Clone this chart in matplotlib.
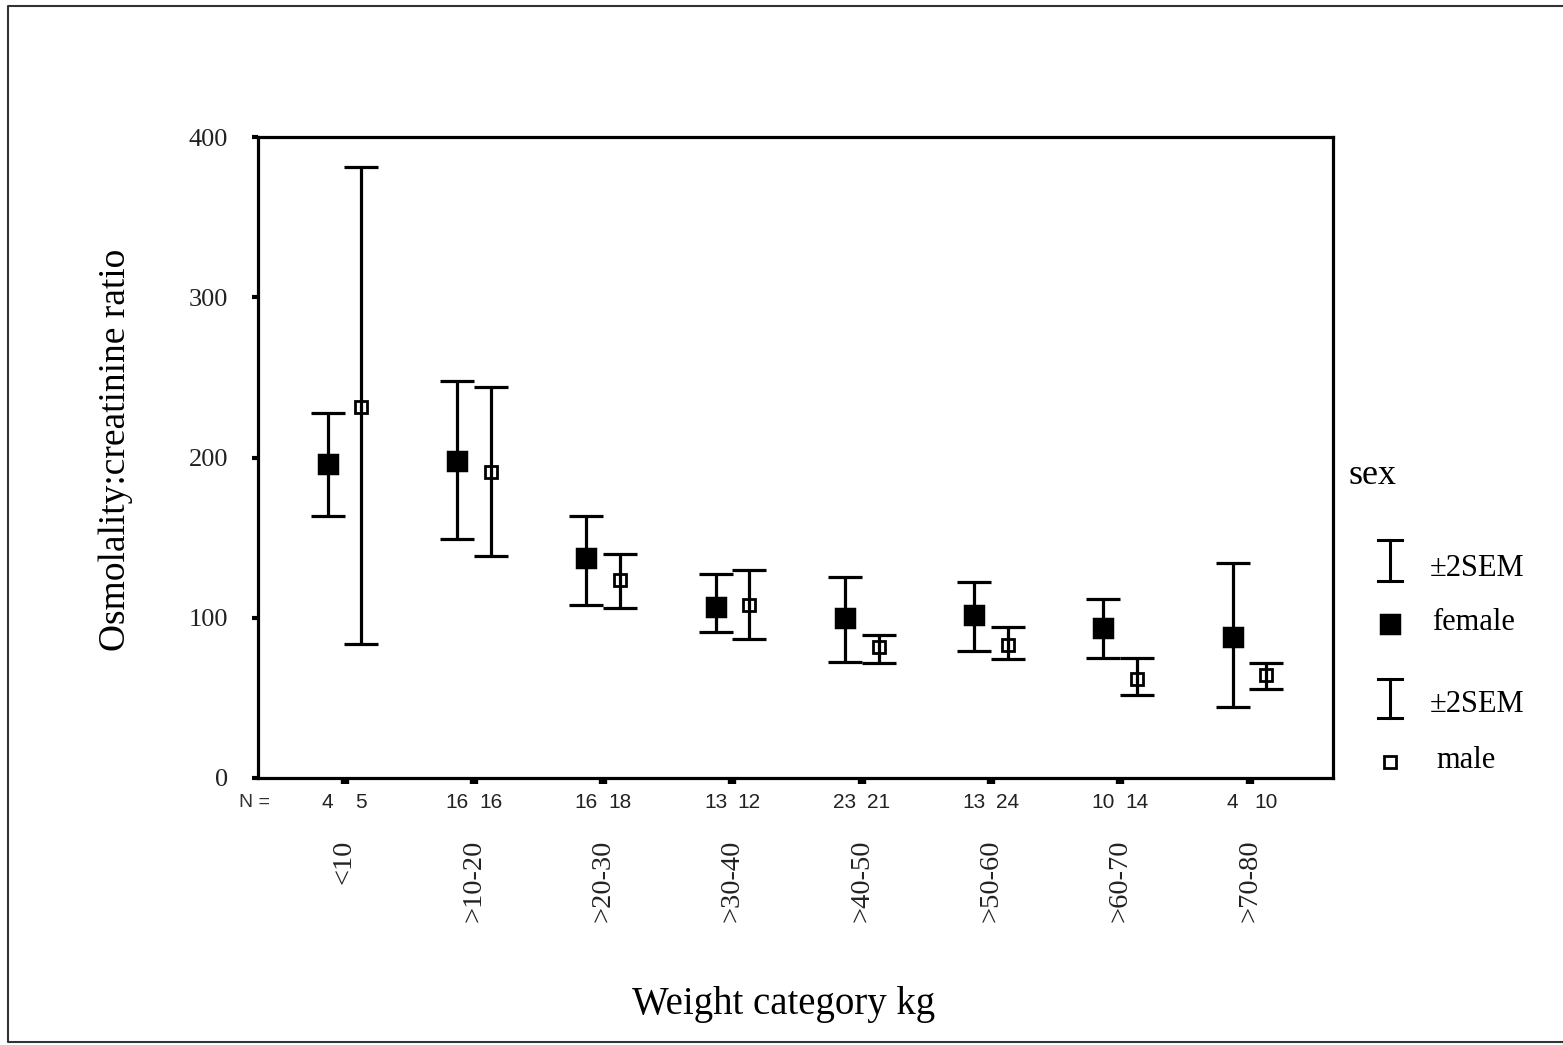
import numpy as np
import matplotlib
matplotlib.use("Agg")
import matplotlib.pyplot as plt
from matplotlib.lines import Line2D
from matplotlib.transforms import IdentityTransform

# weight classes and group sizes
categories = ["<10", ">10-20", ">20-30", ">30-40", ">40-50", ">50-60", ">60-70", ">70-80"]
n_female = [4, 16, 16, 13, 23, 13, 10, 4]
n_male = [5, 16, 18, 12, 21, 24, 14, 10]

# osmolality:creatinine ratio, mean and +/-2 SEM limits
female_mean = [196, 198, 137, 107, 100, 102, 93.5, 88]
female_low = [163.5, 149, 108, 91, 72.5, 79, 75, 44]
female_high = [228, 248, 163.5, 127, 125.5, 122, 112, 134]

male_mean = [231.5, 191, 123.5, 108, 82, 83, 62, 64]
male_low = [83.5, 138.5, 106, 87, 72, 74, 52, 55.5]
male_high = [381, 244, 140, 130, 89, 94, 75, 72]

W, H = 1563, 1045
SERIF = ["Liberation Serif", "DejaVu Serif"]
SANS = ["Liberation Sans", "DejaVu Sans"]
plt.rcParams["font.family"] = SERIF

fig = plt.figure(figsize=(W / 100, H / 100), dpi=100)
ax = fig.add_axes([258 / W, 1 - 778 / H, (1333 - 258) / W, (778 - 137) / H])

x = np.arange(len(categories))
off = 0.13
xf = x - off
xm = x + off

fm = np.array(female_mean)
mm = np.array(male_mean)
ax.errorbar(xf, fm, yerr=[fm - np.array(female_low), np.array(female_high) - fm],
            fmt="none", ecolor="black", elinewidth=2.3, capsize=12.5, capthick=2.3)
ax.errorbar(xm, mm, yerr=[mm - np.array(male_low), np.array(male_high) - mm],
            fmt="none", ecolor="black", elinewidth=2.3, capsize=12.5, capthick=2.3)
ax.plot(xf, fm, ls="none", marker="s", ms=12.5, mfc="black", mec="black", mew=2.5,
        solid_joinstyle="round")
ax.plot(xm, mm, ls="none", marker="s", ms=8.5, mfc="none", mec="black", mew=2)

ax.set_xlim(-0.669, 7.645)
ax.set_ylim(0, 400)
ax.set_yticks([0, 100, 200, 300, 400])
ax.set_yticklabels(["0", "100", "200", "300", "400"], fontsize=19, color="#222222")
ax.set_xticks(x)
ax.set_xticklabels([])
ax.tick_params(axis="y", direction="out", length=4.5, width=3, pad=17)
ax.tick_params(axis="x", direction="out", length=4, width=6)
for s in ax.spines.values():
    s.set_linewidth(2.3)

# group sizes under each marker
ax.text(-0.58, -0.039, "N =", transform=ax.get_xaxis_transform(), ha="right", va="center",
        fontsize=14, family=SANS, color="#333333", clip_on=False)
for i in range(len(categories)):
    ax.text(xf[i], -0.039, str(n_female[i]), transform=ax.get_xaxis_transform(),
            ha="center", va="center", fontsize=15, family=SANS, color="#222222")
    ax.text(xm[i], -0.039, str(n_male[i]), transform=ax.get_xaxis_transform(),
            ha="center", va="center", fontsize=15, family=SANS, color="#222222")
    ax.text(x[i], -0.096, categories[i], transform=ax.get_xaxis_transform(),
            rotation=90, ha="center", va="top", fontsize=20.5, color="#222222")

ax.set_ylabel("Osmolality:creatinine ratio", fontsize=27)
ax.yaxis.set_label_coords(-0.116, 0.512)
ax.set_xlabel("Weight category kg", fontsize=28)
ax.xaxis.set_label_coords(0.489, -0.325)

# legend, drawn in pixel coordinates
ident = IdentityTransform()


def ibar(cx, top, bottom, half=12):
    fig.add_artist(Line2D([cx, cx], [H - top, H - bottom], color="black", lw=2.2, transform=ident))
    for yy in (top, bottom):
        fig.add_artist(Line2D([cx - half, cx + half], [H - yy, H - yy], color="black", lw=2.2,
                              transform=ident))


fig.text(1348 / W, 1 - 475 / H, "sex", fontsize=26, ha="left", va="center")
ibar(1390, 540, 581)
fig.text(1430 / W, 1 - 568 / H, "\u00b12SEM", fontsize=22, ha="left", va="center")
fig.add_artist(Line2D([1390], [H - 624], marker="s", ms=12.5, mfc="black", mec="black", mew=2.5,
                      transform=ident))
fig.text(1432 / W, 1 - 622 / H, "female", fontsize=22, ha="left", va="center")
ibar(1390, 679, 718)
fig.text(1430 / W, 1 - 705 / H, "\u00b12SEM", fontsize=22, ha="left", va="center")
fig.add_artist(Line2D([1390], [H - 762], marker="s", ms=8, mfc="none", mec="black", mew=2,
                      transform=ident))
fig.text(1436 / W, 1 - 760 / H, "male", fontsize=22, ha="left", va="center")

# page frame
fig.add_artist(Line2D([W, 8, 8, W], [H - 6, H - 6, H - 1042, H - 1042], color="#333333",
                      lw=1.5, transform=ident))

fig.savefig("out.png", dpi=100)
